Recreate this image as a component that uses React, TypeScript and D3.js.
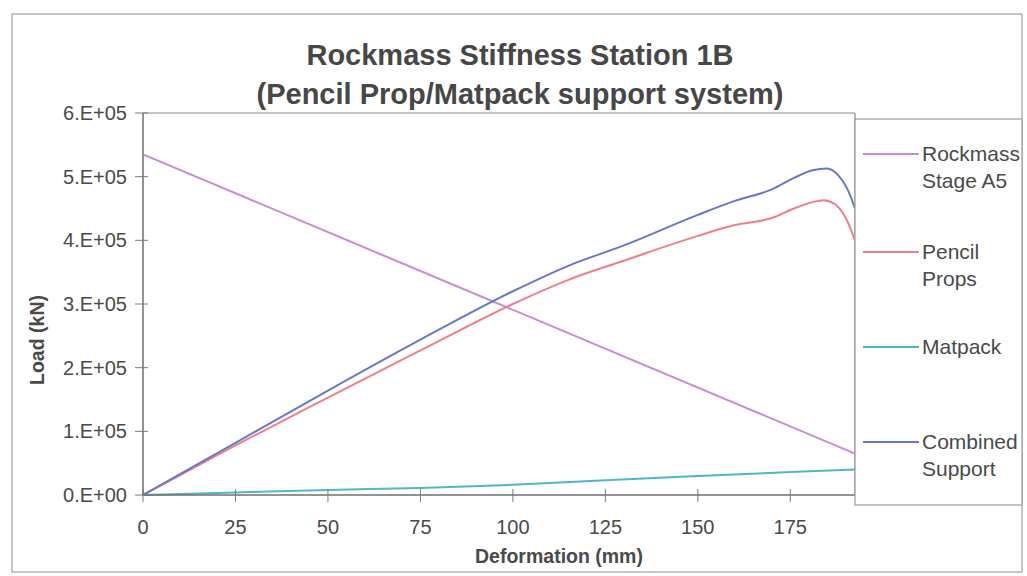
import React from "react";
import * as d3 from "d3";

const titleLines = ["Rockmass Stiffness Station 1B", "(Pencil Prop/Matpack support system)"];
const xTicks = [0, 25, 50, 75, 100, 125, 150, 175];
const yTicks = [0, 100000, 200000, 300000, 400000, 500000, 600000];

const rockDef = [0, 192.5];
const rockLoad = [535000, 65000];

const pencilDef = [0, 25, 50, 75, 100, 115, 130, 150, 160, 170, 176, 181, 184, 187, 190, 192.5];
const pencilLoad = [0, 78000, 153000, 227000, 300000, 338000, 368000, 407000, 424000, 435000, 450000, 460000, 463000, 457000, 435000, 400000];

const matDef = [0, 25, 50, 75, 100, 125, 150, 175, 192.5];
const matLoad = [0, 4000, 8000, 11000, 16000, 23000, 30000, 36000, 40000];

const combDef = [0, 25, 50, 75, 100, 115, 130, 150, 160, 170, 176, 181, 185, 188, 190.5, 192.5];
const combLoad = [0, 82000, 164000, 244000, 320000, 360000, 392000, 440000, 462000, 480000, 498000, 510000, 513000, 502000, 480000, 450000];

const seriesNames = [["Rockmass", "Stage A5"], ["Pencil", "Props"], ["Matpack"], ["Combined", "Support"]];
const seriesColors = ["#c98ad6", "#ef7f8c", "#4fb8c4", "#6a78c4"];

export default function App() {
  const W = 1027, H = 576;
  const x = d3.scaleLinear().domain([0, 192.5]).range([143, 855]);
  const y = d3.scaleLinear().domain([0, 600000]).range([495, 113]);
  const line = d3
    .line<[number, number]>()
    .x((d) => x(d[0]))
    .y((d) => y(d[1]))
    .curve(d3.curveMonotoneX);
  const data: [number, number][][] = [
    rockDef.map((d, i) => [d, rockLoad[i]]),
    pencilDef.map((d, i) => [d, pencilLoad[i]]),
    matDef.map((d, i) => [d, matLoad[i]]),
    combDef.map((d, i) => [d, combLoad[i]]),
  ];
  const fmtY = (v: number) => (v === 0 ? "0.E+00" : `${Math.round(v / 100000)}.E+05`);
  const legendY = [154, 252, 347, 442];
  const font = "'Liberation Sans', Arial, sans-serif";
  const textCol = "#4a4a4a";
  return (
    <svg width={W} height={H} style={{ position: "absolute", left: 0, top: 0 }} fontFamily={font}>
      <rect x={0} y={0} width={W} height={H} fill="#ffffff" />
      <rect x={12} y={14} width={1010} height={558} fill="#ffffff" stroke="#b4b4b4" strokeWidth={1.5} />
      {titleLines.map((t, i) => (
        <text key={i} x={520} y={65 + i * 39} textAnchor="middle" fontSize={29} fontWeight="bold" fill="#474747">
          {t}
        </text>
      ))}
      {/* plot frame */}
      <line x1={143} x2={855} y1={113} y2={113} stroke="#8a8a8a" strokeWidth={1.2} />
      <line x1={855} x2={855} y1={113} y2={495} stroke="#8a8a8a" strokeWidth={1.2} />
      {data.map((d, i) => (
        <path key={i} d={line(d) || ""} fill="none" stroke={seriesColors[i]} strokeWidth={2} />
      ))}
      <line x1={143} x2={143} y1={113} y2={495} stroke="#6f6f6f" strokeWidth={1.5} />
      <line x1={143} x2={855} y1={495} y2={495} stroke="#6f6f6f" strokeWidth={1.5} />
      {yTicks.map((t) => (
        <g key={t}>
          <line x1={135} x2={148} y1={y(t)} y2={y(t)} stroke="#7a7a7a" strokeWidth={1} />
          <text x={127} y={y(t) + 7} textAnchor="end" fontSize={20} fill={textCol}>
            {fmtY(t)}
          </text>
        </g>
      ))}
      {xTicks.map((t) => (
        <g key={t}>
          <line x1={x(t)} x2={x(t)} y1={489} y2={502} stroke="#7a7a7a" strokeWidth={1} />
          <text x={x(t)} y={534} textAnchor="middle" fontSize={20} fill={textCol}>
            {t}
          </text>
        </g>
      ))}
      <text x={559} y={563} textAnchor="middle" fontSize={19.5} fontWeight="bold" fill={textCol}>
        Deformation (mm)
      </text>
      <text transform="translate(44,340) rotate(-90)" textAnchor="middle" fontSize={19.5} fontWeight="bold" fill={textCol}>
        Load (kN)
      </text>
      {/* legend */}
      <rect x={855} y={119} width={167} height={386} fill="#ffffff" stroke="#9a9a9a" strokeWidth={1.2} />
      {seriesNames.map((names, i) => (
        <g key={i}>
          <line x1={863} x2={919} y1={legendY[i]} y2={legendY[i]} stroke={seriesColors[i]} strokeWidth={2} />
          {names.map((n, j) => (
            <text key={j} x={922} y={legendY[i] + 7 + j * 27} fontSize={21} fill={textCol}>
              {n}
            </text>
          ))}
        </g>
      ))}
    </svg>
  );
}
